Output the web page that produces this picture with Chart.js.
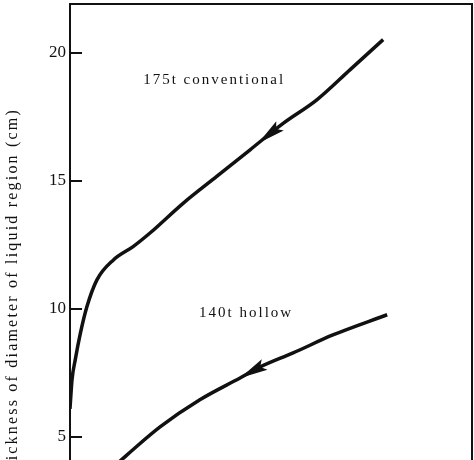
<!DOCTYPE html>
<html>
<head>
<meta charset="utf-8">
<script src="https://cdn.jsdelivr.net/npm/chart.js@4"></script>
<style>
  html, body { margin: 0; padding: 0; background: #fff; overflow: hidden; }
</style>
</head>
<body>
<canvas id="chart" width="474" height="460"></canvas>
<script>
// y axis
const yTicks = [5, 10, 15, 20];
const yMin = 4.1, yMax = 21.9;
const yTitle = 'Thickness of diameter of liquid region (cm)';

// x axis has no labels in the picture, arbitrary 0..100 across the box
const xMin = 0, xMax = 100;

// 175t conventional
const convX = [0, 0.5, 1.3, 2.6, 4.2, 6.7, 10.8, 15.7, 19.9, 28.2, 36.5, 44.8, 53.1, 61.4, 69.7, 77.9];
const convY = [6.1, 7.23, 8.01, 9.06, 10.08, 11.13, 11.91, 12.43, 12.96, 14.13, 15.17, 16.21, 17.25, 18.16, 19.34, 20.51];

// 140t hollow
const hollowX = [11.9, 14.2, 22.4, 32.3, 42.3, 47.3, 55.5, 65.4, 78.9];
const hollowY = [3.98, 4.30, 5.39, 6.45, 7.30, 7.73, 8.28, 8.98, 9.77];

const seriesNames = ['175t conventional', '140t hollow'];
// where the curve labels start (data units)
const nameX = [18.2, 32.1];
const nameY = [18.95, 9.84];
// arrow tips (x in data units)
const arrowX = [46.8, 42.3];

const ink = '#111';
const serif = '"Liberation Serif", "DejaVu Serif", serif';

function yAt(xs, ys, v) {
  for (let i = 1; i < xs.length; i++) {
    if (v <= xs[i]) {
      const t = (v - xs[i - 1]) / (xs[i] - xs[i - 1]);
      return ys[i - 1] + t * (ys[i] - ys[i - 1]);
    }
  }
  return ys[ys.length - 1];
}

// no label overhang, the box fills the canvas like the scan
function noPad(s) {
  s.paddingTop = 0; s.paddingBottom = 0;
  s.paddingLeft = 0; s.paddingRight = 0;
}

const overlay = {
  id: 'overlay',
  afterDatasetsDraw(chart) {
    const { ctx, scales: { x, y } } = chart;
    const sets = [[convX, convY], [hollowX, hollowY]];
    ctx.save();
    ctx.fillStyle = ink;

    // arrows, pointing back down the curve
    sets.forEach(([xs, ys], i) => {
      const tx = arrowX[i];
      const px = x.getPixelForValue(tx), py = y.getPixelForValue(yAt(xs, ys, tx));
      const qx = x.getPixelForValue(tx + 4), qy = y.getPixelForValue(yAt(xs, ys, tx + 4));
      const a = Math.atan2(qy - py, qx - px);
      const len = 28, hw = 6;
      const bx = px + Math.cos(a) * len, by = py + Math.sin(a) * len;
      ctx.beginPath();
      ctx.moveTo(px, py);
      ctx.lineTo(bx + Math.sin(a) * hw, by - Math.cos(a) * hw);
      ctx.lineTo(px + Math.cos(a) * (len - 5), py + Math.sin(a) * (len - 5));
      ctx.lineTo(bx - Math.sin(a) * hw, by + Math.cos(a) * hw);
      ctx.closePath();
      ctx.fill();
    });

    ctx.font = '15px ' + serif;
    ctx.letterSpacing = '2px';
    ctx.textBaseline = 'middle';
    ctx.textAlign = 'left';
    seriesNames.forEach((n, i) => {
      ctx.fillText(n, x.getPixelForValue(nameX[i]), y.getPixelForValue(nameY[i]));
    });

    // y title, its start is cut off by the bottom edge like the scan
    ctx.font = '16px ' + serif;
    ctx.letterSpacing = '2.2px';
    ctx.translate(13, 108);
    ctx.rotate(-Math.PI / 2);
    ctx.textAlign = 'right';
    ctx.fillText(yTitle, 0, 0);
    ctx.restore();
  }
};

const line = (xs, ys) => xs.map((v, i) => ({ x: v, y: ys[i] }));

new Chart(document.getElementById('chart'), {
  type: 'line',
  data: {
    datasets: [
      { label: seriesNames[0], data: line(convX, convY) },
      { label: seriesNames[1], data: line(hollowX, hollowY) }
    ]
  },
  options: {
    responsive: false,
    animation: false,
    devicePixelRatio: 1,
    layout: { padding: { top: 4, right: 2, bottom: 0, left: 0 } },
    elements: {
      line: { borderColor: ink, borderWidth: 3.5, cubicInterpolationMode: 'monotone', fill: false },
      point: { radius: 0 }
    },
    plugins: { legend: { display: false }, tooltip: { enabled: false } },
    scales: {
      x: { type: 'linear', min: xMin, max: xMax, display: false },
      xTop: {
        type: 'linear', position: 'top', min: xMin, max: xMax,
        ticks: { display: false },
        grid: { display: false, drawTicks: false },
        border: { display: true, color: ink, width: 2 },
        afterFit: s => { s.height = 0; noPad(s); }
      },
      y: {
        type: 'linear', position: 'left', min: yMin, max: yMax,
        afterBuildTicks: s => { s.ticks = yTicks.map(v => ({ value: v })); },
        afterFit: s => { s.width = 70; noPad(s); },
        ticks: { color: ink, font: { family: serif, size: 17 }, padding: 16 },
        grid: { drawOnChartArea: false, tickLength: -12, color: ink, lineWidth: 2 },
        border: { color: ink, width: 2 }
      },
      yRight: {
        type: 'linear', position: 'right', min: yMin, max: yMax,
        ticks: { display: false },
        grid: { display: false, drawTicks: false },
        border: { display: true, color: ink, width: 2 },
        afterFit: s => { s.width = 0; noPad(s); }
      }
    }
  },
  plugins: [overlay]
});
</script>
</body>
</html>
